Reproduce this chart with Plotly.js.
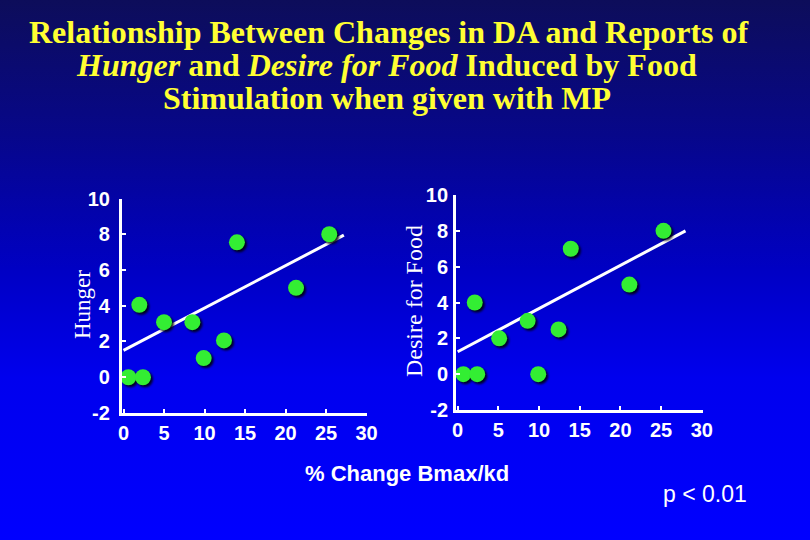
<!DOCTYPE html>
<html>
<head>
<meta charset="utf-8">
<script src="https://cdn.plot.ly/plotly-3.0.1.min.js"></script>
<style>
html, body { margin: 0; padding: 0; }
body { width: 810px; height: 540px; overflow: hidden;
  background: linear-gradient(to bottom, #0d0d5a 0%, #07078a 25%, #0000c4 50%, #0000ee 70%, #0000ff 100%); }
#chart { width: 810px; height: 540px; }
.scatterlayer .points path { filter: drop-shadow(2px 2px 1px rgba(0,0,0,0.85)); }
</style>
</head>
<body>
<div id="chart"></div>
<script>
// % Change Bmax/kd (x) for each subject
const hungerX = [0.6, 2.4, 1.95, 5.0, 8.5, 9.9, 12.4, 14.0, 21.3, 25.4];
const hungerY = [0, 0, 4.05, 3.08, 3.08, 1.07, 2.06, 7.55, 5.0, 8.0];
const hungerFitX = [0, 27.2];
const hungerFitY = [1.5, 7.95];

const desireX = [0.7, 2.4, 2.1, 5.1, 8.6, 9.9, 12.4, 13.9, 21.1, 25.3];
const desireY = [0, 0, 4.0, 2.0, 2.98, 0, 2.5, 7.0, 5.0, 8.0];
const desireFitX = [0, 28.0];
const desireFitY = [1.25, 8.0];

const xTicks = [0, 5, 10, 15, 20, 25, 30];
const yTicks = [-2, 0, 2, 4, 6, 8, 10];

const green = '#33ee33';
const traces = [
  {x: hungerFitX, y: hungerFitY, mode: 'lines', line: {color: '#ffffff', width: 3}, xaxis: 'x', yaxis: 'y', hoverinfo: 'skip'},
  {x: hungerX, y: hungerY, mode: 'markers', marker: {color: green, size: 16, line: {width: 0}}, xaxis: 'x', yaxis: 'y'},
  {x: desireFitX, y: desireFitY, mode: 'lines', line: {color: '#ffffff', width: 3}, xaxis: 'x2', yaxis: 'y2', hoverinfo: 'skip'},
  {x: desireX, y: desireY, mode: 'markers', marker: {color: green, size: 16, line: {width: 0}}, xaxis: 'x2', yaxis: 'y2'}
];

const tickFont = {family: 'Arial, "Liberation Sans", sans-serif', size: 20, color: '#ffffff', weight: 'bold'};
function xAxis(dom, anchor) {
  return {domain: dom, anchor: anchor, range: [-0.2, 30.1], tickvals: xTicks, ticktext: xTicks.map(String),
    showgrid: false, zeroline: false, showline: true, linecolor: '#ffffff', linewidth: 3,
    ticks: 'inside', ticklen: 4, tickwidth: 2, tickcolor: '#ffffff', tickfont: tickFont, ticklabelstandoff: 0, fixedrange: true};
}
function yAxis(dom, anchor, standoff) {
  return {domain: dom, anchor: anchor, range: [-2, 10], tickvals: yTicks, ticktext: yTicks.map(String),
    showgrid: false, zeroline: false, showline: true, linecolor: '#ffffff', linewidth: 3,
    ticks: 'inside', ticklen: 4, tickwidth: 2, tickcolor: '#ffffff', tickfont: tickFont, ticklabelstandoff: standoff, fixedrange: true};
}

const titleFont = {family: '"Liberation Serif", "Times New Roman", serif', size: 32, color: '#ffff33', weight: 'bold'};
const layout = {
  width: 810, height: 540,
  margin: {l: 0, r: 0, t: 0, b: 0},
  paper_bgcolor: 'rgba(0,0,0,0)', plot_bgcolor: 'rgba(0,0,0,0)',
  showlegend: false,
  xaxis: xAxis([0.1505, 0.4535], 'y'),
  yaxis: yAxis([0.2352, 0.6324], 'x', 5),
  xaxis2: xAxis([0.563, 0.8674], 'y2'),
  yaxis2: yAxis([0.2407, 0.6389], 'x2', 1),
  annotations: [
    {text: 'Relationship Between Changes in DA and Reports of', x: 389/810, y: 1 - 32/540, xref: 'paper', yref: 'paper', showarrow: false, font: titleFont, xanchor: 'center', yanchor: 'middle'},
    {text: '<i>Hunger</i> and <i>Desire for Food</i> Induced by Food', x: 386/810, y: 1 - 65/540, xref: 'paper', yref: 'paper', showarrow: false, font: titleFont, xanchor: 'center', yanchor: 'middle'},
    {text: 'Stimulation when given with MP', x: 387/810, y: 1 - 98/540, xref: 'paper', yref: 'paper', showarrow: false, font: titleFont, xanchor: 'center', yanchor: 'middle'},
    {text: 'Hunger', textangle: -90, x: 82/810, y: 1 - 305/540, xref: 'paper', yref: 'paper', showarrow: false, xanchor: 'center', yanchor: 'middle',
      font: {family: '"Liberation Serif", "Times New Roman", serif', size: 23, color: '#ffffff'}},
    {text: 'Desire for Food', textangle: -90, x: 414/810, y: 1 - 301/540, xref: 'paper', yref: 'paper', showarrow: false, xanchor: 'center', yanchor: 'middle',
      font: {family: '"Liberation Serif", "Times New Roman", serif', size: 24, color: '#ffffff'}},
    {text: '% Change Bmax/kd', x: 407/810, y: 1 - 473/540, xref: 'paper', yref: 'paper', showarrow: false, xanchor: 'center', yanchor: 'middle',
      font: {family: 'Arial, "Liberation Sans", sans-serif', size: 22, color: '#ffffff', weight: 'bold'}},
    {text: 'p < 0.01', x: 705/810, y: 1 - 494/540, xref: 'paper', yref: 'paper', showarrow: false, xanchor: 'center', yanchor: 'middle',
      font: {family: 'Arial, "Liberation Sans", sans-serif', size: 23, color: '#ffffff'}}
  ]
};
Plotly.newPlot('chart', traces, layout, {displayModeBar: false, staticPlot: true});
</script>
</body>
</html>
